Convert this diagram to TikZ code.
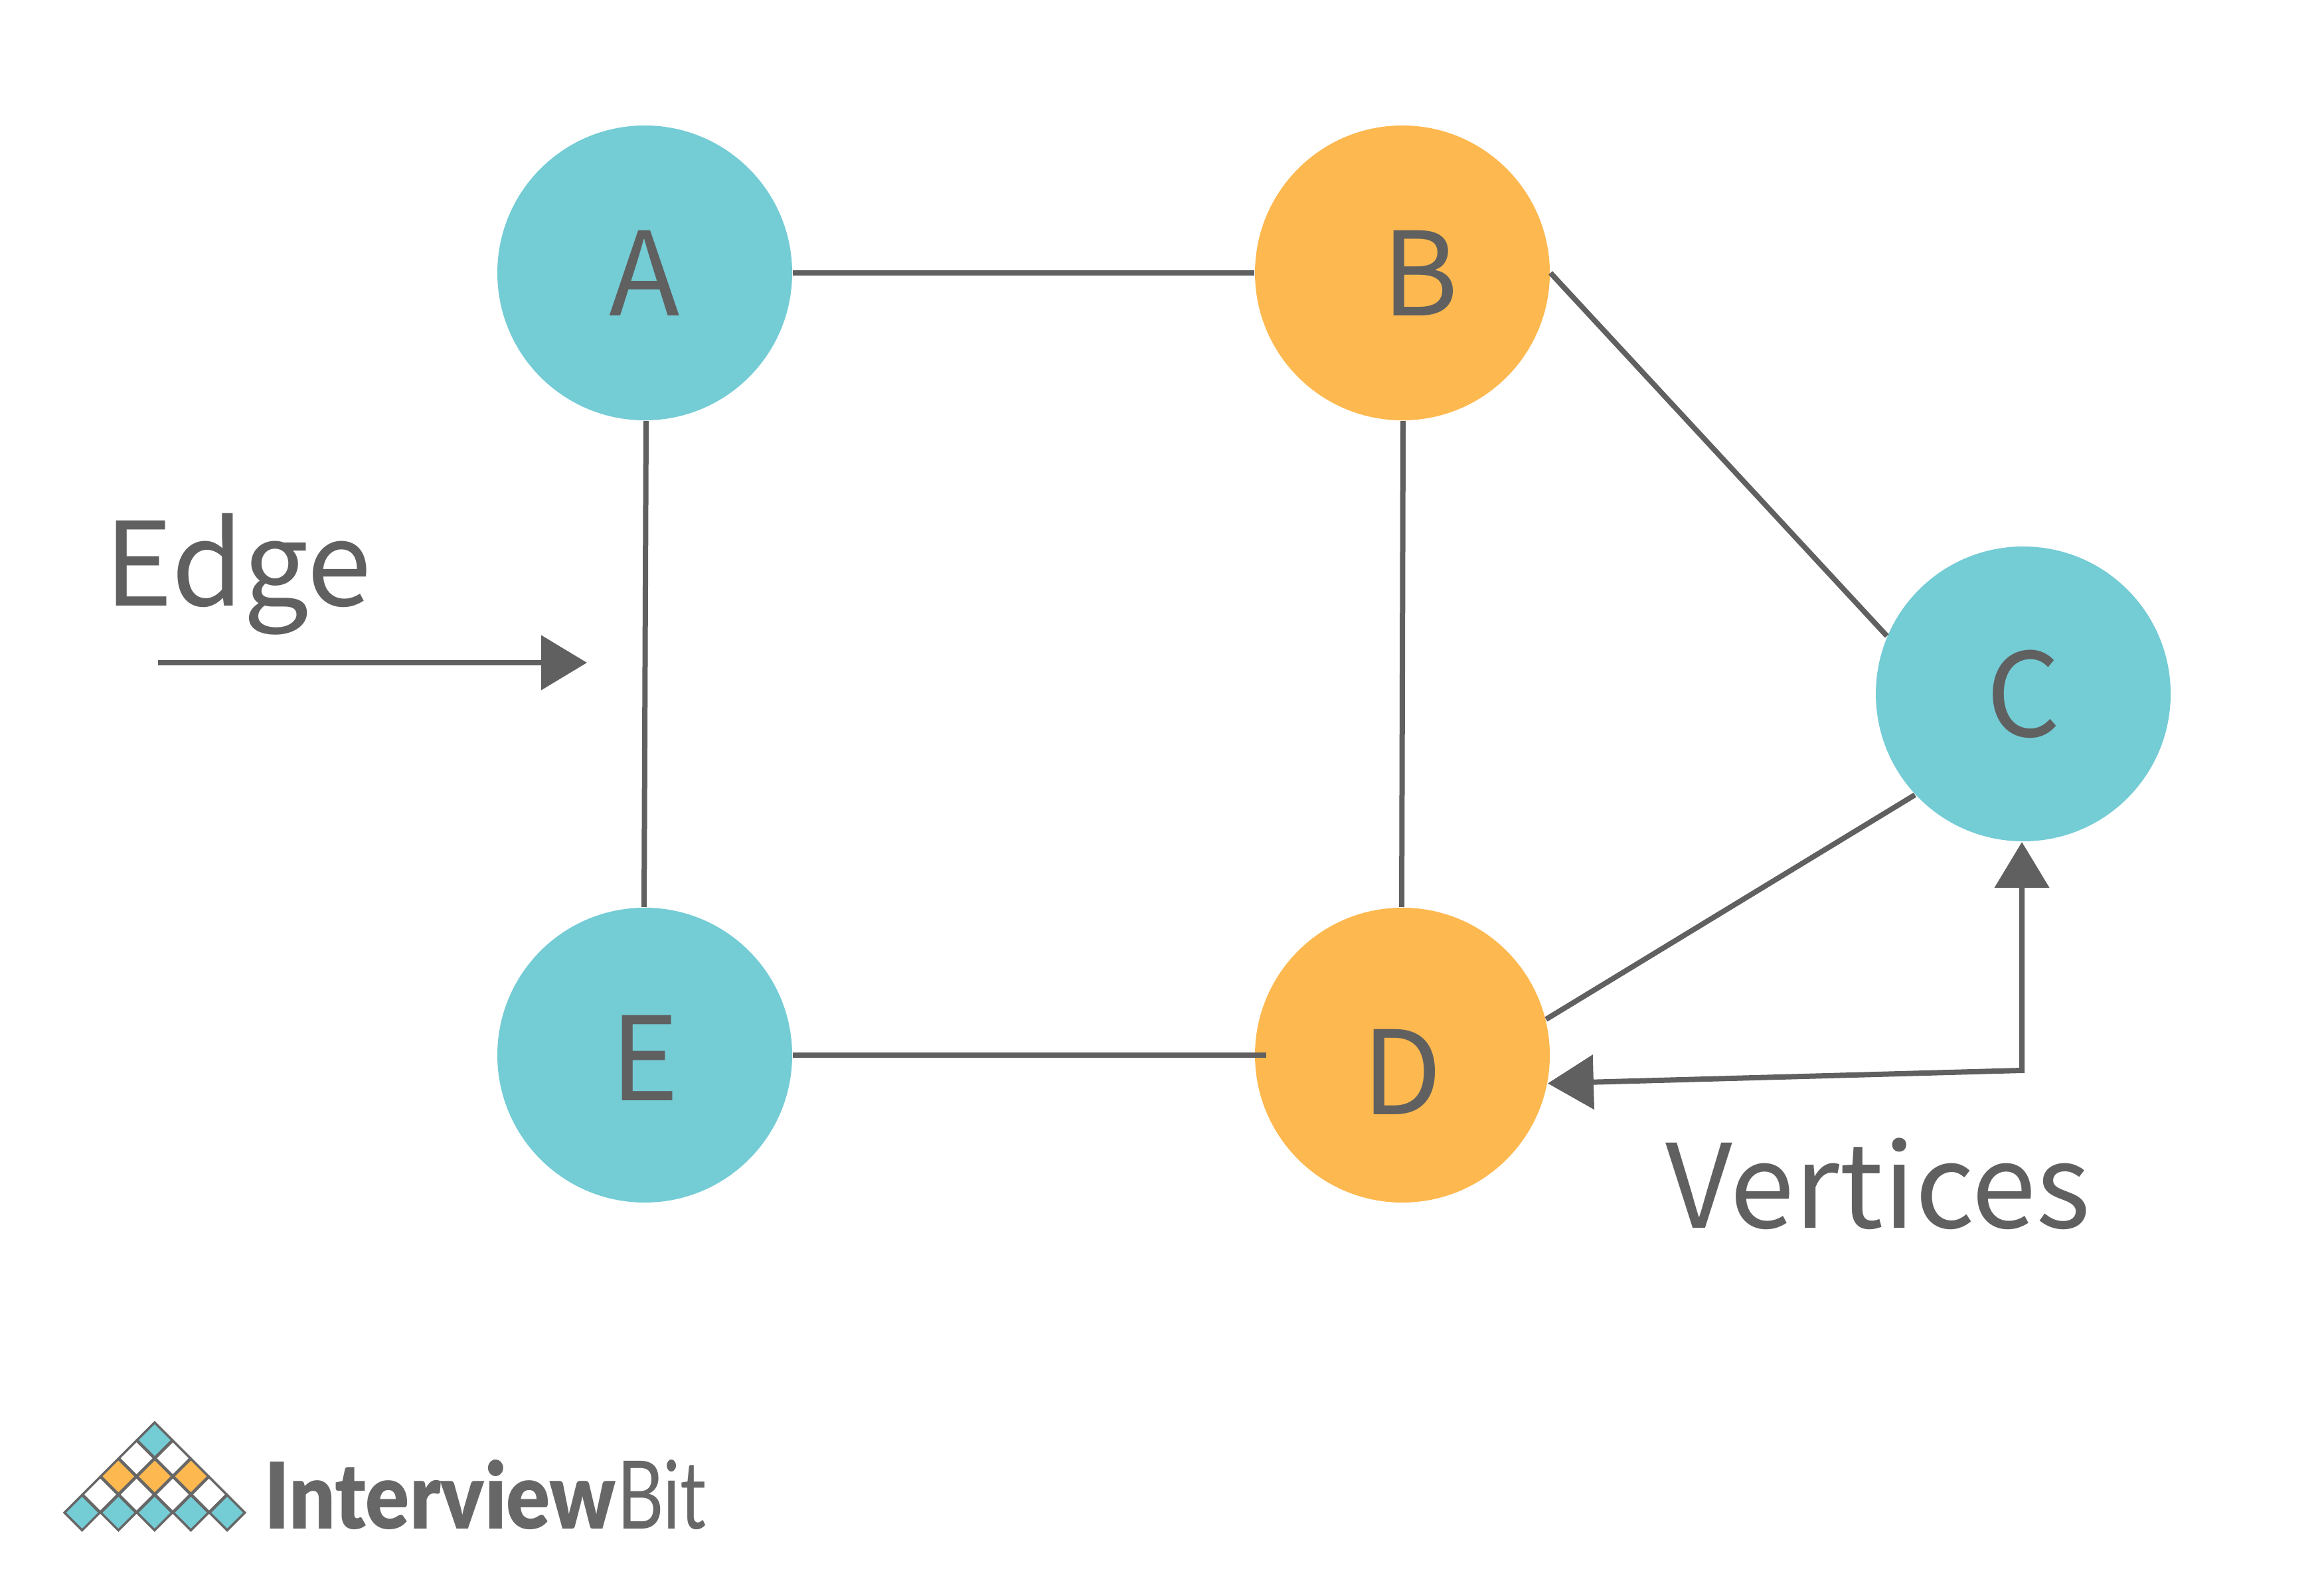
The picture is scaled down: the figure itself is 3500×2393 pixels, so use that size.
\documentclass[tikz,border=0pt]{standalone}
\usepackage{graphicx}
\usepackage{fontspec}
\setmainfont{Noto Sans CJK SC}
\newfontfamily\logoheavy{Lato}[UprightFont=* Black]
\newfontfamily\logolight{Lato}
\usetikzlibrary{arrows.meta,calc,shapes.geometric}
\definecolor{ink}{HTML}{606060}
\definecolor{logoInk}{HTML}{676767}
\definecolor{cyanFill}{HTML}{74CCD5}
\definecolor{amberFill}{HTML}{FDB84F}
\tikzset{
  base/.style={font=\fontsize{35}{40}\selectfont, text=ink, inner sep=0pt},
  vertex/.style={circle, minimum size=88.8pt, inner sep=0pt},
  cyanvertex/.style={vertex, fill=cyanFill},
  ambervertex/.style={vertex, fill=amberFill},
  letter/.style={base, anchor=center},
  link/.style={draw=ink, line width=1.6pt},
  pointer/.style={link, {Triangle[length=13.8pt,width=16.2pt]}-{Triangle[length=13.8pt,width=16.2pt]}},
  pointerend/.style={link, -{Triangle[length=13.8pt,width=16.2pt]}},
  cell/.style={diamond, aspect=1, minimum size=10.9pt, inner sep=0pt, draw=logoInk, line width=0.7pt},
}
\begin{document}
\begin{tikzpicture}[x=0.2pt,y=-0.2pt]
  \useasboundingbox (0,0) rectangle (3500,2393);

  % vertices
  \node[cyanvertex,label={[letter]center:A}] (a) at (971,411) {};
  \node[ambervertex,label={[letter,xshift=5.3pt]center:B}] (b) at (2112,411) {};
  \node[cyanvertex,label={[letter]center:C}] (c) at (3047,1045) {};
  \node[ambervertex,label={[letter,yshift=-5pt]center:D}] (d) at (2112,1589) {};
  \node[cyanvertex,label={[letter,yshift=-0.9pt]center:E}] (e) at (971,1589) {};

  % edges
  \draw[link] (a.east) -- (b.west);
  \draw[link] (b.east) -- (c.157.5);
  \draw[link] (c.223) -- (d.14.7);
  \draw[link] ([xshift=0.4pt]a.south) -- ([xshift=-0.2pt]e.north);
  \draw[link] ([xshift=0.2pt]b.south) -- ([xshift=-0.2pt]d.north);
  \draw[link] (e.east) -- ([xshift=3.6pt]d.west);

  % labels
  \node[base,anchor=base west] (edgelabel) at (156,913) {Edge};
  \coordinate (edgefrom) at (238,998);
  \coordinate (edgeto) at (884,998);
  \draw[pointerend] (edgefrom) -- (edgeto);

  \node[base,anchor=base west] (vertlabel) at (2507,1849) {Vertices};
  \coordinate (corner) at (3045,1612);
  \draw[pointer] (d.-11) -- (corner) -- (c.south -| corner);

  % logo
  \foreach \col in {0,...,4}
    \node[cell,fill=cyanFill] (r0c\col) at (123.7+54.6*\col,2278) {};
  \foreach \col in {0,...,3}
    \node[cell,fill=white] (r1c\col) at (151+54.6*\col,2250.7) {};
  \foreach \col in {0,...,2}
    \node[cell,fill=amberFill] (r2c\col) at (178.3+54.6*\col,2223.4) {};
  \foreach \col in {0,1}
    \node[cell,fill=white] (r3c\col) at (205.6+54.6*\col,2196.1) {};
  \node[cell,fill=cyanFill] (r4c0) at (232.9,2168.8) {};

  \node[base,anchor=south west,text=logoInk] (logoa) at (397,2305) {\resizebox{106pt}{20.8pt}{\logoheavy Interview}};
  \node[base,anchor=south west,text=logoInk] (logob) at (928,2305) {\resizebox{27pt}{20.8pt}{\logolight Bit}};
\end{tikzpicture}
\end{document}
